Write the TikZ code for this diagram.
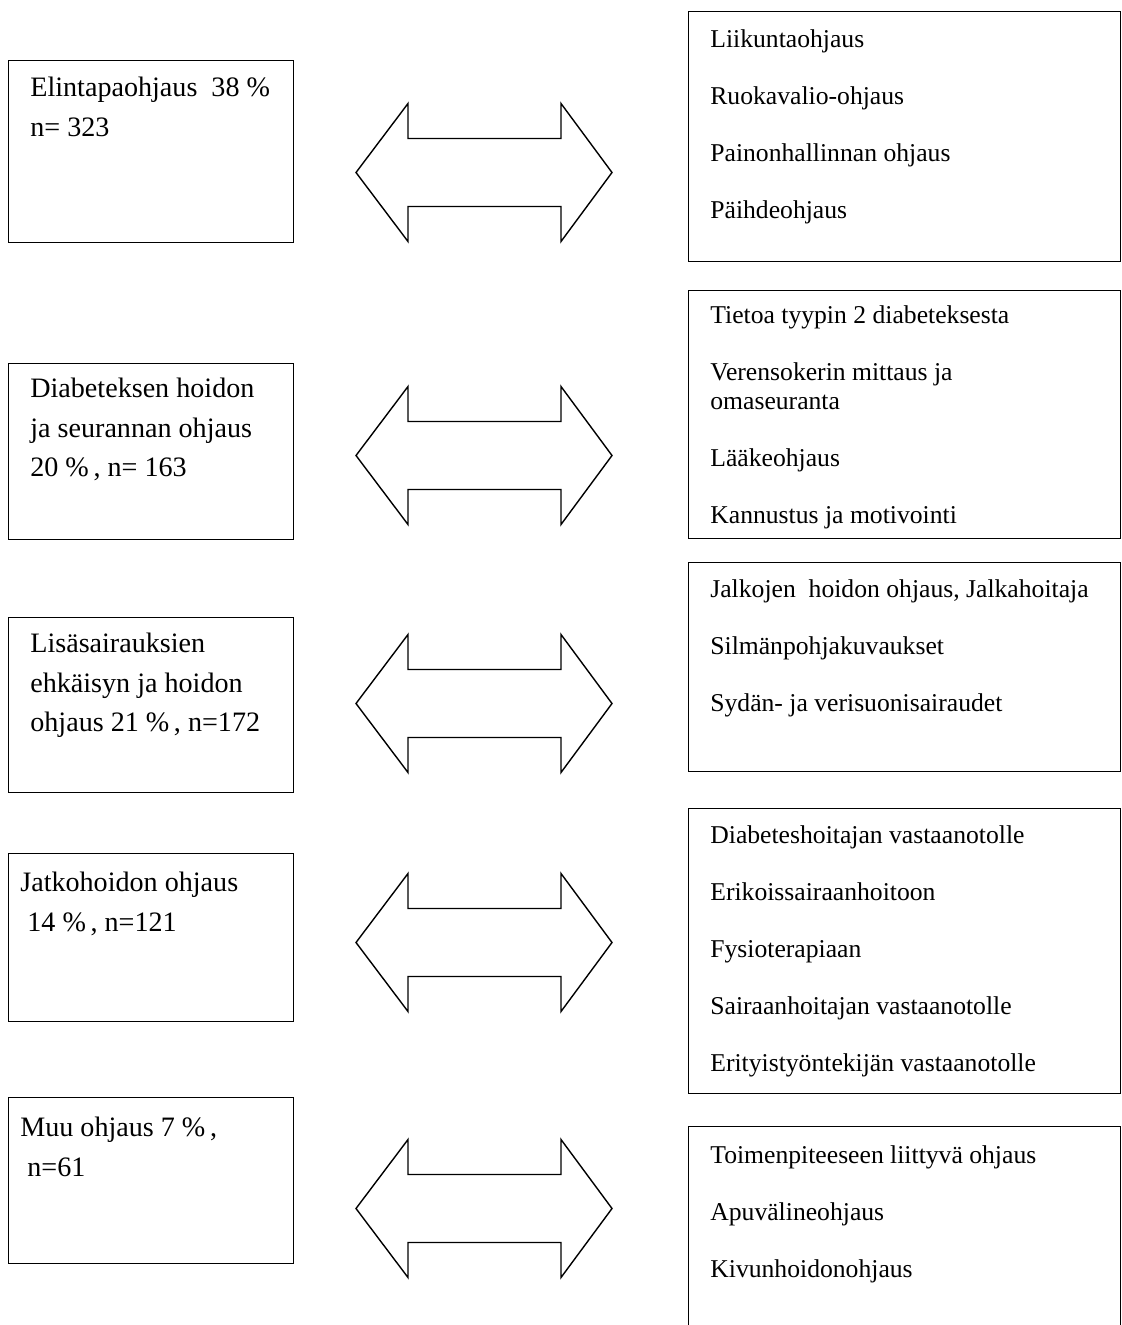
\documentclass[tikz,border=0pt]{standalone}
\usepackage{fontspec}
\setmainfont{Liberation Serif}
\usetikzlibrary{positioning}
\tikzset{
  lbox/.style={draw=black, line width=0.8pt, anchor=north west, minimum width=5.7cm, inner sep=0pt},
  rbox/.style={draw=black, line width=0.8pt, anchor=north west, minimum width=8.64cm, inner sep=0pt},
  ltext/.style={align=left, inner sep=0pt, font=\fontsize{16}{22.4}\selectfont},
  rtext/.style={align=left, inner sep=0pt, font=\fontsize{14.6}{16.4}\selectfont},
  arrowline/.style={draw=black, line width=0.8pt, line join=miter},
  twoway/.pic={
    \draw[arrowline] (-128,0) -- (-76,-69) -- (-76,-34) -- (77,-34) -- (77,-69) -- (128,0)
      -- (77,69) -- (77,34) -- (-76,34) -- (-76,69) -- cycle;
  }
}

\begin{document}
\begin{tikzpicture}[x=0.02cm, y=-0.02cm]
\useasboundingbox (0,0) rectangle (1122,1325);
% left column
\node[lbox, minimum height=3.64cm] (lb1) at (8,60) {};
\node[lbox, minimum height=3.52cm] (lb2) at (8,363) {};
\node[lbox, minimum height=3.5cm] (lb3) at (8,617) {};
\node[lbox, minimum height=3.36cm] (lb4) at (8,853) {};
\node[lbox, minimum height=3.32cm] (lb5) at (8,1097) {};
\node[ltext, below right=0.34cm and 0.44cm of lb1.north west] (lt1) {Elintapaohjaus\ \ 38 \%\\n= 323};
\node[ltext, below right=0.30cm and 0.44cm of lb2.north west] (lt2) {Diabeteksen hoidon\\ja seurannan ohjaus\\20 \%\,, n= 163};
\node[ltext, below right=0.32cm and 0.44cm of lb3.north west] (lt3) {Lisäsairauksien\\ehkäisyn ja hoidon\\ohjaus 21 \%\,, n=172};
\node[ltext, below right=0.38cm and 0.24cm of lb4.north west] (lt4) {Jatkohoidon ohjaus\\\hspace{4pt}14 \%\,, n=121};
\node[ltext, below right=0.40cm and 0.24cm of lb5.north west] (lt5) {Muu ohjaus 7 \%\,,\\\hspace{4pt}n=61};
% right column
\node[rbox, minimum height=5.0cm] (rb1) at (688,11) {};
\node[rbox, minimum height=4.96cm] (rb2) at (688,290) {};
\node[rbox, minimum height=4.18cm] (rb3) at (688,562) {};
\node[rbox, minimum height=5.7cm] (rb4) at (688,808) {};
\node[rbox, minimum height=4.4cm] (rb5) at (688,1126) {};
\node[rtext, below right=0.37cm and 0.44cm of rb1.north west] (rt1) {Liikuntaohjaus\\[16pt]Ruokavalio-ohjaus\\[16pt]Painonhallinnan ohjaus\\[16pt]Päihdeohjaus};
\node[rtext, below right=0.31cm and 0.44cm of rb2.north west] (rt2) {Tietoa tyypin 2 diabeteksesta\\[16pt]Verensokerin mittaus ja\\omaseuranta\\[16pt]Lääkeohjaus\\[16pt]Kannustus ja motivointi};
\node[rtext, below right=0.35cm and 0.44cm of rb3.north west] (rt3) {Jalkojen\ \ hoidon ohjaus, Jalkahoitaja\\[16pt]Silmänpohjakuvaukset\\[16pt]Sydän- ja verisuonisairaudet};
\node[rtext, below right=0.35cm and 0.44cm of rb4.north west] (rt4) {Diabeteshoitajan vastaanotolle\\[16pt]Erikoissairaanhoitoon\\[16pt]Fysioterapiaan\\[16pt]Sairaanhoitajan vastaanotolle\\[16pt]Erityistyöntekijän vastaanotolle};
\node[rtext, below right=0.39cm and 0.44cm of rb5.north west] (rt5) {Toimenpiteeseen liittyvä ohjaus\\[16pt]Apuvälineohjaus\\[16pt]Kivunhoidonohjaus};
% double arrows
\pic (a1) at (484,172.5) {twoway};
\pic (a2) at (484,455.5) {twoway};
\pic (a3) at (484,703.5) {twoway};
\pic (a4) at (484,942.5) {twoway};
\pic (a5) at (484,1208.5) {twoway};
\end{tikzpicture}
\end{document}
